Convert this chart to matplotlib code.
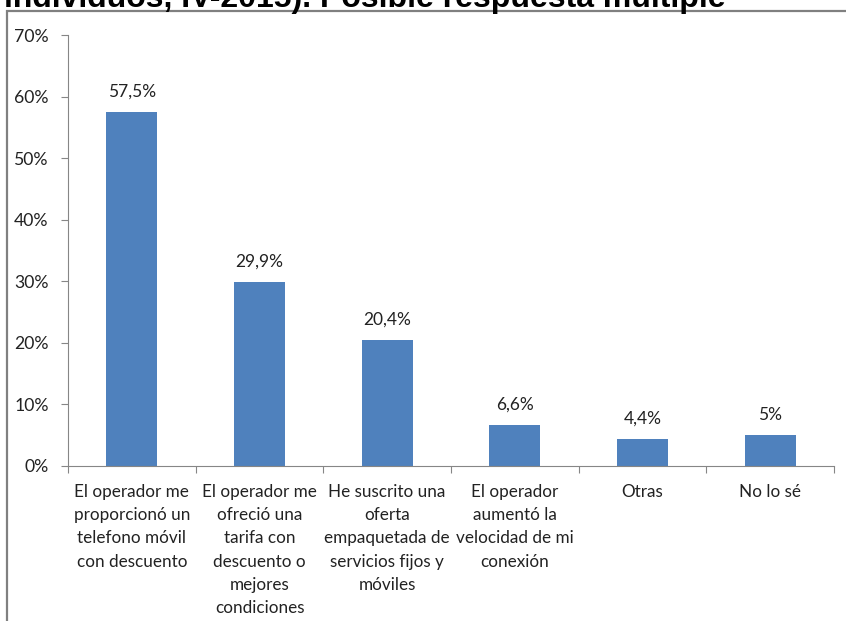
import matplotlib
matplotlib.use("Agg")
import matplotlib.pyplot as plt
from matplotlib.patches import Rectangle
from matplotlib.ticker import FuncFormatter

categorias = [
    "El operador me\nproporcionó un\ntelefono móvil\ncon descuento",
    "El operador me\nofreció una\ntarifa con\ndescuento o\nmejores\ncondiciones",
    "He suscrito una\noferta\nempaquetada de\nservicios fijos y\nmóviles",
    "El operador\naumentó la\nvelocidad de mi\nconexión",
    "Otras",
    "No lo sé",
]
valores = [57.5, 29.9, 20.4, 6.6, 4.4, 5.0]
etiquetas = ["57,5%", "29,9%", "20,4%", "6,6%", "4,4%", "5%"]

plt.rcParams['font.family'] = ['Lato', 'DejaVu Sans']

fig = plt.figure(figsize=(8.46, 6.21), dpi=100)
W, H = 846, 621

# marco gris del gráfico
fig.patches.append(Rectangle((7 / W, -0.1), 1.0, (H - 11) / H + 0.1,
                             transform=fig.transFigure, fill=False,
                             edgecolor='#808080', linewidth=1.6))

# título (la parte superior queda fuera del lienzo)
fig.text(365 / W, 1 - 7 / H, "individuos, IV-2015). Posible respuesta múltiple",
         ha='center', va='baseline', fontsize=23, fontweight='bold',
         family='Liberation Sans', color='black')

ax = fig.add_axes([68 / W, 1 - 466 / H, (834 - 68) / W, (466 - 35) / H])
x = range(len(valores))
ax.bar(x, valores, width=0.4, color='#4F81BD')
for xi, v, t in zip(x, valores, etiquetas):
    ax.text(xi, v + 2.0, t, ha='center', va='bottom', fontsize=12.5, color='#222222')

ax.set_xlim(-0.5, len(valores) - 0.5)
ax.set_ylim(0, 70)
ax.set_yticks(range(0, 71, 10))
ax.yaxis.set_major_formatter(FuncFormatter(lambda v, p: f"{int(v)}%"))
ax.set_xticks([i - 0.5 for i in range(len(valores) + 1)], minor=False)
ax.set_xticklabels([])
ax.set_xticks(list(x), minor=True)
ax.set_xticklabels(categorias, minor=True, fontsize=12.3, color='#222222',
                   linespacing=1.55, va='top', ha='center')
ax.tick_params(axis='x', which='minor', length=0, pad=13)
ax.tick_params(axis='x', which='major', length=5, color='#868686', direction='out')
ax.tick_params(axis='y', length=5, color='#868686', labelsize=12.7, labelcolor='#222222', pad=9)

for s in ['top', 'right']:
    ax.spines[s].set_visible(False)
for s in ['left', 'bottom']:
    ax.spines[s].set_color('#868686')

fig.savefig("out.png", dpi=100)
